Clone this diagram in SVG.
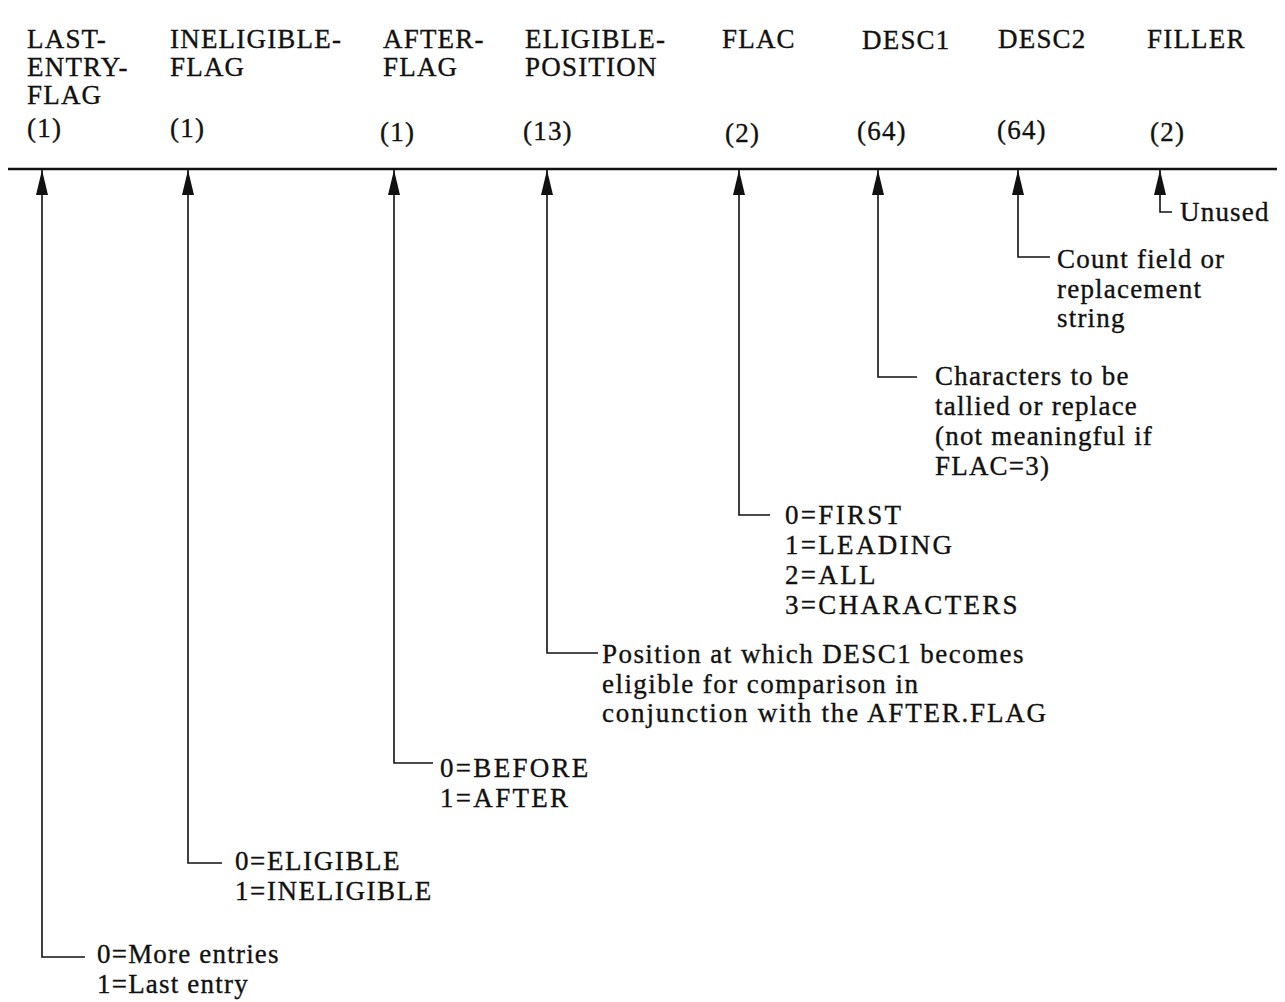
<svg xmlns="http://www.w3.org/2000/svg" width="1285" height="1002" viewBox="0 0 1285 1002">
  <style>
    text { font-family: "Liberation Serif", "Times New Roman", serif; font-size: 27px; fill: #111; stroke: #111; stroke-width: 0.35; letter-spacing: 1.2px; }
    text.wide { letter-spacing: 2.3px; }
    .rule { stroke: #111; stroke-width: 2.5; fill: none; }
    .lead { stroke: #111; stroke-width: 1.6; fill: none; marker-start: url(#tip); }
  </style>
  <defs>
    <marker id="tip" viewBox="0 0 25 12" refX="25" refY="6" markerWidth="25" markerHeight="12" markerUnits="userSpaceOnUse" orient="auto-start-reverse">
      <path d="M0,0 L25,6 L0,12 Z" fill="#111"/>
    </marker>
  </defs>
  <rect width="1285" height="1002" fill="#fff"/>

  <!-- record layout: field names and lengths -->
  <g id="last-entry-flag">
    <text x="27" y="48">LAST-</text>
    <text x="27" y="76">ENTRY-</text>
    <text x="27" y="104">FLAG</text>
    <text x="27" y="137">(1)</text>
  </g>
  <g id="ineligible-flag">
    <text x="170" y="48">INELIGIBLE-</text>
    <text x="170" y="76">FLAG</text>
    <text x="170" y="137">(1)</text>
  </g>
  <g id="after-flag">
    <text x="383" y="48">AFTER-</text>
    <text x="383" y="76">FLAG</text>
    <text x="380" y="141">(1)</text>
  </g>
  <g id="eligible-position">
    <text x="525" y="48">ELIGIBLE-</text>
    <text x="525" y="76">POSITION</text>
    <text x="523" y="140">(13)</text>
  </g>
  <g id="flac">
    <text x="722" y="48">FLAC</text>
    <text x="725" y="142">(2)</text>
  </g>
  <g id="desc1">
    <text x="862" y="49">DESC1</text>
    <text x="857" y="140">(64)</text>
  </g>
  <g id="desc2">
    <text x="998" y="48">DESC2</text>
    <text x="997" y="139">(64)</text>
  </g>
  <g id="filler">
    <text x="1147" y="48">FILLER</text>
    <text x="1150" y="141">(2)</text>
  </g>

  <!-- baseline of the record -->
  <line class="rule" x1="8" y1="169" x2="1277" y2="169"/>

  <!-- leader lines from each field to its description -->
  <g id="connectors">
    <path class="lead" d="M42,170 V957 H85"/>
    <path class="lead" d="M188,170 V863 H222"/>
    <path class="lead" d="M394,170 V763 H433"/>
    <path class="lead" d="M547,170 V653 H598"/>
    <path class="lead" d="M739,170 V515 H770"/>
    <path class="lead" d="M878,170 V377 H917"/>
    <path class="lead" d="M1018,170 V257 H1050"/>
    <path class="lead" d="M1160,170 V212 H1172"/>
  </g>

  <!-- value descriptions -->
  <g id="note-last-entry">
    <text x="97" y="963">0=More entries</text>
    <text x="97" y="993">1=Last entry</text>
  </g>
  <g id="note-ineligible">
    <text x="235" y="870" style="letter-spacing:1.6px">0=ELIGIBLE</text>
    <text x="235" y="900" style="letter-spacing:1.6px">1=INELIGIBLE</text>
  </g>
  <g id="note-after">
    <text class="wide" x="440" y="777">0=BEFORE</text>
    <text class="wide" x="440" y="807">1=AFTER</text>
  </g>
  <g id="note-position">
    <text x="602" y="663" style="letter-spacing:1.45px">Position at which DESC1 becomes</text>
    <text x="602" y="693" style="letter-spacing:1.45px">eligible for comparison in</text>
    <text x="602" y="722" style="letter-spacing:1.8px">conjunction with the AFTER.FLAG</text>
  </g>
  <g id="note-flac">
    <text class="wide" x="785" y="524">0=FIRST</text>
    <text class="wide" x="785" y="554">1=LEADING</text>
    <text class="wide" x="785" y="584">2=ALL</text>
    <text class="wide" x="785" y="614">3=CHARACTERS</text>
  </g>
  <g id="note-desc1">
    <text x="935" y="385">Characters to be</text>
    <text x="935" y="415">tallied or replace</text>
    <text x="935" y="445">(not meaningful if</text>
    <text x="935" y="475">FLAC=3)</text>
  </g>
  <g id="note-desc2">
    <text x="1057" y="268">Count field or</text>
    <text x="1057" y="298">replacement</text>
    <text x="1057" y="327">string</text>
  </g>
  <g id="note-filler">
    <text x="1180" y="221">Unused</text>
  </g>
</svg>
